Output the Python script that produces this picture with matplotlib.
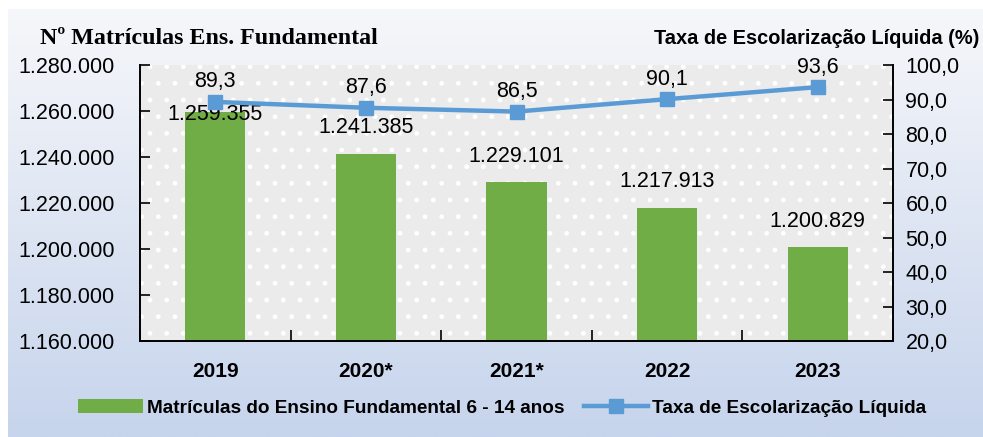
import numpy as np
import matplotlib
matplotlib.use("Agg")
import matplotlib.pyplot as plt
from matplotlib.patches import Patch, Rectangle
from matplotlib.lines import Line2D
from matplotlib.ticker import FuncFormatter, FixedLocator

anos = ["2019", "2020*", "2021*", "2022", "2023"]
matriculas = [1259355, 1241385, 1229101, 1217913, 1200829]
taxa = [89.3, 87.6, 86.5, 90.1, 93.6]
left_ticks = [1160000, 1180000, 1200000, 1220000, 1240000, 1260000, 1280000]
right_ticks = [20, 30, 40, 50, 60, 70, 80, 90, 100]

plt.rcParams['font.family'] = ["Liberation Sans", "DejaVu Sans"]

def br_int(v, pos=None):
    return f"{int(round(v)):,}".replace(",", ".")

def br_dec(v, pos=None):
    return f"{v:.1f}".replace(".", ",")

fig = plt.figure(figsize=(9.83, 4.37), dpi=100)
fig.patch.set_facecolor("white")

# gradient background
bg = fig.add_axes([8/983, 0, 1 - 8/983, 1 - 9/437], zorder=-10)
grad = np.linspace(0, 1, 256)[:, None]
c_top = np.array([0xf6, 0xf7, 0xfa]) / 255
c_bot = np.array([0xc6, 0xd4, 0xec]) / 255
img = c_top[None, None, :] * (1 - grad[:, :, None]) + c_bot[None, None, :] * grad[:, :, None]
bg.imshow(img, aspect="auto", extent=[0, 1, 0, 1])
bg.axis("off")

ax = fig.add_axes([140/983, 1 - 341/437, (893 - 140)/983, (341 - 65)/437])
ax.set_facecolor("#ebebeb")
ax.add_patch(Rectangle((0, 0), 1, 1, transform=ax.transAxes, facecolor="none",
                       edgecolor="white", hatch=".", linewidth=0, zorder=0))
x = np.arange(len(anos))
bars = ax.bar(x, matriculas, width=0.4, color="#70ad47", zorder=2)
ax.set_xlim(-0.5, len(anos) - 0.5)
ax.set_ylim(1160000, 1280000)
ax.yaxis.set_major_locator(FixedLocator(left_ticks))
ax.yaxis.set_major_formatter(FuncFormatter(br_int))
ax.set_xticks(x)
ax.set_xticklabels(anos, fontsize=15, fontweight="bold")
ax.set_xticks(np.arange(len(anos) + 1) - 0.5, minor=True)
ax.tick_params(axis="x", which="major", length=0, pad=15)
ax.tick_params(axis="x", which="minor", direction="in", length=8, width=1.2)
ax.tick_params(axis="y", direction="in", length=7, width=1.2, labelsize=15.5, pad=18)
ax.spines["top"].set_visible(False)
ax.spines["right"].set_visible(False)
for s in ("left", "bottom"):
    ax.spines[s].set_linewidth(1.4)

for i, v in enumerate(matriculas):
    off = 26 if i > 0 else -2
    ax.annotate(br_int(v), (x[i], v), xytext=(0, off), textcoords="offset pixels",
                ha="center", va="center", fontsize=15.5, zorder=5)

ax2 = ax.twinx()
ax2.set_ylim(20, 100)
ax2.yaxis.set_major_locator(FixedLocator(right_ticks))
ax2.yaxis.set_major_formatter(FuncFormatter(br_dec))
ax2.plot(x, taxa, color="#5b9bd5", linewidth=3.2, marker="s", markersize=10, zorder=4)
ax2.tick_params(axis="y", direction="in", length=7, width=1.2, labelsize=15.5, pad=9)
ax2.spines["top"].set_visible(False)
ax2.spines["left"].set_visible(False)
ax2.spines["bottom"].set_visible(False)
ax2.spines["right"].set_linewidth(1.4)
for i, v in enumerate(taxa):
    ax2.annotate(br_dec(v), (x[i], v), xytext=(0, 20), textcoords="offset pixels",
                 ha="center", va="center", fontsize=15.5, zorder=5)

fig.text(40/983, 1 - 38/437, "Nº Matrículas Ens. Fundamental", fontsize=17.3,
         fontweight="bold", family=["Liberation Serif", "DejaVu Serif"], va="center")
fig.text(979/983, 1 - 38/437, "Taxa de Escolarização Líquida (%)", fontsize=14.4,
         fontweight="bold", ha="right", va="center")

handles = [Patch(facecolor="#70ad47"),
           Line2D([], [], color="#5b9bd5", linewidth=3.2, marker="s", markersize=10)]
labels = ["Matrículas do Ensino Fundamental 6 - 14 anos", "Taxa de Escolarização Líquida"]
fig.legend(handles, labels, loc="center", bbox_to_anchor=(0.511, 1 - 408/437), ncol=2,
           frameon=False, prop={"size": 13.7, "weight": "bold"}, handlelength=3.4,
           handletextpad=0.2, columnspacing=1.0)

fig.savefig("out.png", dpi=100)
